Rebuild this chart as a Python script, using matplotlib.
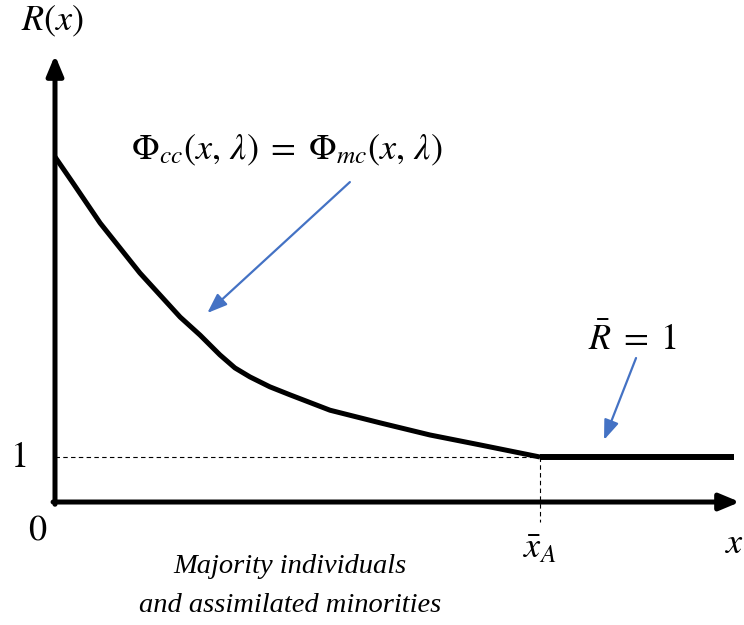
import numpy as np
import matplotlib.pyplot as plt

plt.rcParams['mathtext.fontset'] = 'stix'

# decreasing branch of R(x) up to the threshold x_A, then flat at R = 1
x_curve = [0.0, 0.037, 0.093, 0.175, 0.258, 0.299, 0.340, 0.371, 0.402,
           0.443, 0.485, 0.567, 0.670, 0.773, 0.876, 1.0]
r_curve = [7.67, 7.09, 6.20, 5.09, 4.11, 3.71, 3.27, 2.98, 2.78,
           2.56, 2.38, 2.04, 1.76, 1.49, 1.27, 1.0]
x_A = 1.0
x_flat = [1.0, 1.40]
r_flat = [1.0, 1.0]

fig = plt.figure(figsize=(7.44, 6.25), dpi=100)
ax = fig.add_axes([0, 0, 1, 1])
ax.set_xlim(-0.1134, 1.4206)
ax.set_ylim(-2.733, 11.156)
ax.axis('off')

# axes with arrow heads
head = '-|>,head_length=1.2,head_width=0.5'
ax.annotate('', xy=(0, 9.93), xytext=(0, -0.05),
            arrowprops=dict(arrowstyle=head, lw=3.6, color='black',
                            shrinkA=0, shrinkB=0))
ax.annotate('', xy=(1.412, 0), xytext=(-0.004, 0),
            arrowprops=dict(arrowstyle=head, lw=3.6, color='black',
                            shrinkA=0, shrinkB=0))

# guide lines
ax.plot([0, x_A], [1, 1], color='black', lw=0.8, ls=(0, (4, 3)))
ax.plot([x_A, x_A], [1, -0.45], color='black', lw=0.8, ls=(0, (4, 3)))

ax.plot(x_curve, r_curve, color='black', lw=3.6, solid_capstyle='butt',
        solid_joinstyle='round')
ax.plot(x_flat, r_flat, color='black', lw=4.3, solid_capstyle='butt')

blue = '#4472C4'
bhead = '-|>,head_length=1.2,head_width=0.45'
ax.annotate('', xy=(0.314, 4.2), xytext=(0.608, 7.11),
            arrowprops=dict(arrowstyle=bhead, lw=1.6, color=blue,
                            shrinkA=0, shrinkB=0))
ax.annotate('', xy=(1.132, 1.38), xytext=(1.198, 3.2),
            arrowprops=dict(arrowstyle=bhead, lw=1.6, color=blue,
                            shrinkA=0, shrinkB=0))

fs = 26
ax.text(-0.006, 10.67, r'$R(x)$', fontsize=fs, ha='center', va='center')
ax.text(0.478, 7.82, r'$\Phi_{cc}(x,\,\lambda)\;=\;\Phi_{mc}(x,\,\lambda)$',
        fontsize=fs, ha='center', va='center')
ax.text(1.19, 3.6, r'$\bar{R}\;=\;1$', fontsize=fs, ha='center', va='center')
ax.text(-0.076, 1.0, r'$1$', fontsize=fs, ha='center', va='center')
ax.text(-0.035, -0.62, r'$0$', fontsize=fs, ha='center', va='center')
ax.text(x_A, -1.02, r'$\bar{x}_A$', fontsize=fs, ha='center', va='center')
ax.text(1.402, -0.91, r'$x$', fontsize=fs, ha='center', va='center')
ax.text(0.485, -1.44, 'Majority individuals', fontsize=20.5, style='italic',
        family='Liberation Serif', ha='center', va='center')
ax.text(0.485, -2.29, 'and assimilated minorities', fontsize=20.5, style='italic',
        family='Liberation Serif', ha='center', va='center')

plt.savefig('out.png', dpi=100)
